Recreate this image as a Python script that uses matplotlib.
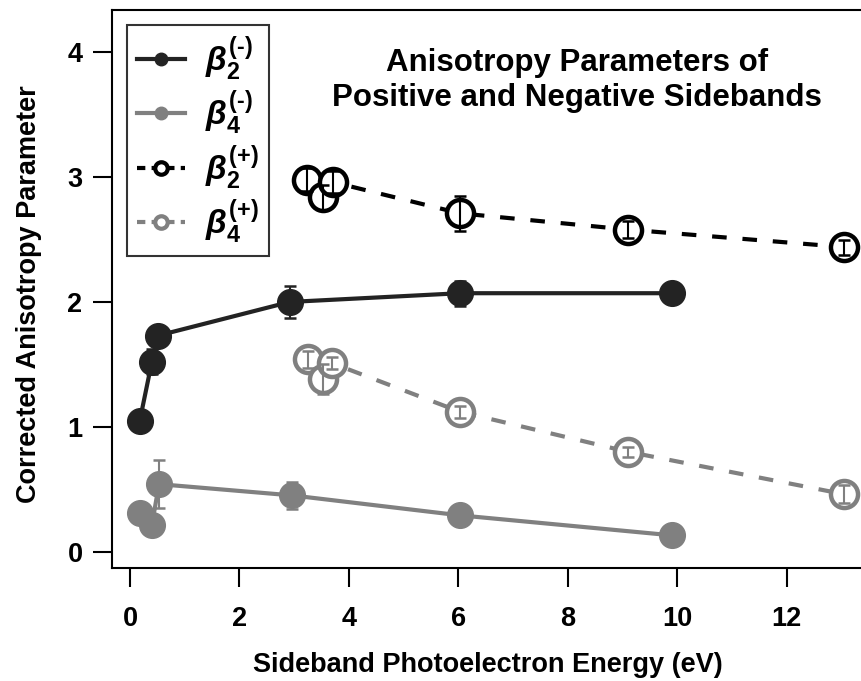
import matplotlib
matplotlib.use("Agg")
import matplotlib.pyplot as plt
from matplotlib.lines import Line2D

plt.rcParams["font.family"] = "Liberation Sans"
plt.rcParams["font.weight"] = "bold"
plt.rcParams["mathtext.fontset"] = "custom"
plt.rcParams["mathtext.rm"] = "Liberation Sans:bold"
plt.rcParams["mathtext.it"] = "Liberation Sans:italic:bold"
plt.rcParams["mathtext.bf"] = "Liberation Sans:bold"

DARK = "#232323"
BLACK = "#000000"
GRAY = "#808080"

# negative sidebands
b2_neg_x = [0.18, 0.40, 0.51, 2.92, 6.03, 9.90]
b2_neg_y = [1.05, 1.52, 1.73, 2.00, 2.07, 2.07]
b2_neg_err = [0.03, 0.10, 0.04, 0.13, 0.10, 0.03]

b4_neg_x = [0.18, 0.40, 0.53, 2.96, 6.03, 9.90]
b4_neg_y = [0.31, 0.21, 0.54, 0.45, 0.29, 0.13]
b4_neg_err = [0.03, 0.03, 0.19, 0.11, 0.07, 0.05]

# positive sidebands
b2_pos_x = [3.23, 3.53, 3.71, 6.03, 9.09, 13.04]
b2_pos_y = [2.98, 2.84, 2.96, 2.71, 2.58, 2.44]
b2_pos_err = [0.09, 0.10, 0.09, 0.14, 0.07, 0.06]

b4_pos_x = [3.25, 3.53, 3.69, 6.03, 9.09, 13.04]
b4_pos_y = [1.54, 1.38, 1.51, 1.12, 0.80, 0.46]
b4_pos_err = [0.07, 0.12, 0.05, 0.05, 0.04, 0.07]

HY = "\u2010"  # plain hyphen inside the superscripts
labels = [r"$\beta_2^{(" + HY + ")}$", r"$\beta_4^{(" + HY + ")}$",
          r"$\beta_2^{(+)}$", r"$\beta_4^{(+)}$"]

fig = plt.figure(figsize=(8.61, 6.81), dpi=100)
ax = fig.add_axes([0.1297, 0.1659, 0.8738, 0.8201])

DASH = (3.5, 3.8)


def filled(x, y, err, color):
    ax.plot(x, y, color=color, lw=3, zorder=2, solid_capstyle="butt")
    ax.errorbar(x, y, yerr=err, fmt="none", ecolor=color, elinewidth=1.5,
                capsize=4, capthick=1.8, zorder=3)
    ax.plot(x, y, "o", ms=18.5, mfc=color, mec=color, mew=1, zorder=4)


def hollow(x, y, err, color):
    ax.plot(x, y, color=color, lw=3, dashes=DASH, zorder=2)
    ax.plot(x, y, "o", ms=19.5, mfc="white", mec=color, mew=3.2, zorder=3)
    ax.errorbar(x, y, yerr=err, fmt="none", ecolor=color, elinewidth=1.5,
                capsize=4, capthick=1.8, zorder=4)


filled(b2_neg_x, b2_neg_y, b2_neg_err, DARK)
filled(b4_neg_x, b4_neg_y, b4_neg_err, GRAY)
hollow(b2_pos_x, b2_pos_y, b2_pos_err, BLACK)
hollow(b4_pos_x, b4_pos_y, b4_pos_err, GRAY)

ax.set_xlim(-0.334, 13.41)
ax.set_ylim(-0.132, 4.343)
ax.set_xticks(range(0, 13, 2))
ax.set_yticks(range(0, 5))
ax.tick_params(axis="both", direction="out", length=14, width=1.5, labelsize=19.5)
ax.tick_params(axis="x", pad=13)
ax.tick_params(axis="y", pad=7)
for s in ax.spines.values():
    s.set_linewidth(1.5)
for lab in ax.get_xticklabels() + ax.get_yticklabels():
    lab.set_fontweight("bold")

ax.set_xlabel("Sideband Photoelectron Energy (eV)", fontsize=19.5,
              fontweight="bold", labelpad=15)
ax.set_ylabel("Corrected Anisotropy Parameter", fontsize=19.5,
              fontweight="bold")
ax.yaxis.set_label_coords(-0.093, 0.49)

ax.text(0.6185, 0.873, "Anisotropy Parameters of\nPositive and Negative Sidebands",
        transform=ax.transAxes, ha="center", va="center", fontsize=22.5,
        fontweight="bold", linespacing=1.25)

handles = [
    Line2D([], [], color=DARK, lw=3, marker="o", ms=9, mfc=DARK, mec=DARK),
    Line2D([], [], color=GRAY, lw=3, marker="o", ms=9, mfc=GRAY, mec=GRAY),
    Line2D([], [], color=BLACK, lw=3, dashes=(2, 1.5), marker="o", ms=9,
           mfc="white", mec=BLACK, mew=3),
    Line2D([], [], color=GRAY, lw=3, dashes=(2, 1.5), marker="o", ms=9,
           mfc="white", mec=GRAY, mew=3),
]
leg = ax.legend(handles, labels, loc="upper left", fontsize=24, frameon=True,
                fancybox=False, edgecolor="black", handlelength=1.45,
                handletextpad=0.6, labelspacing=0.18, borderpad=0.3,
                bbox_to_anchor=(0.0, 1.0), borderaxespad=0.45)
leg.get_frame().set_linewidth(1.5)

fig.savefig("out.png", dpi=100)
